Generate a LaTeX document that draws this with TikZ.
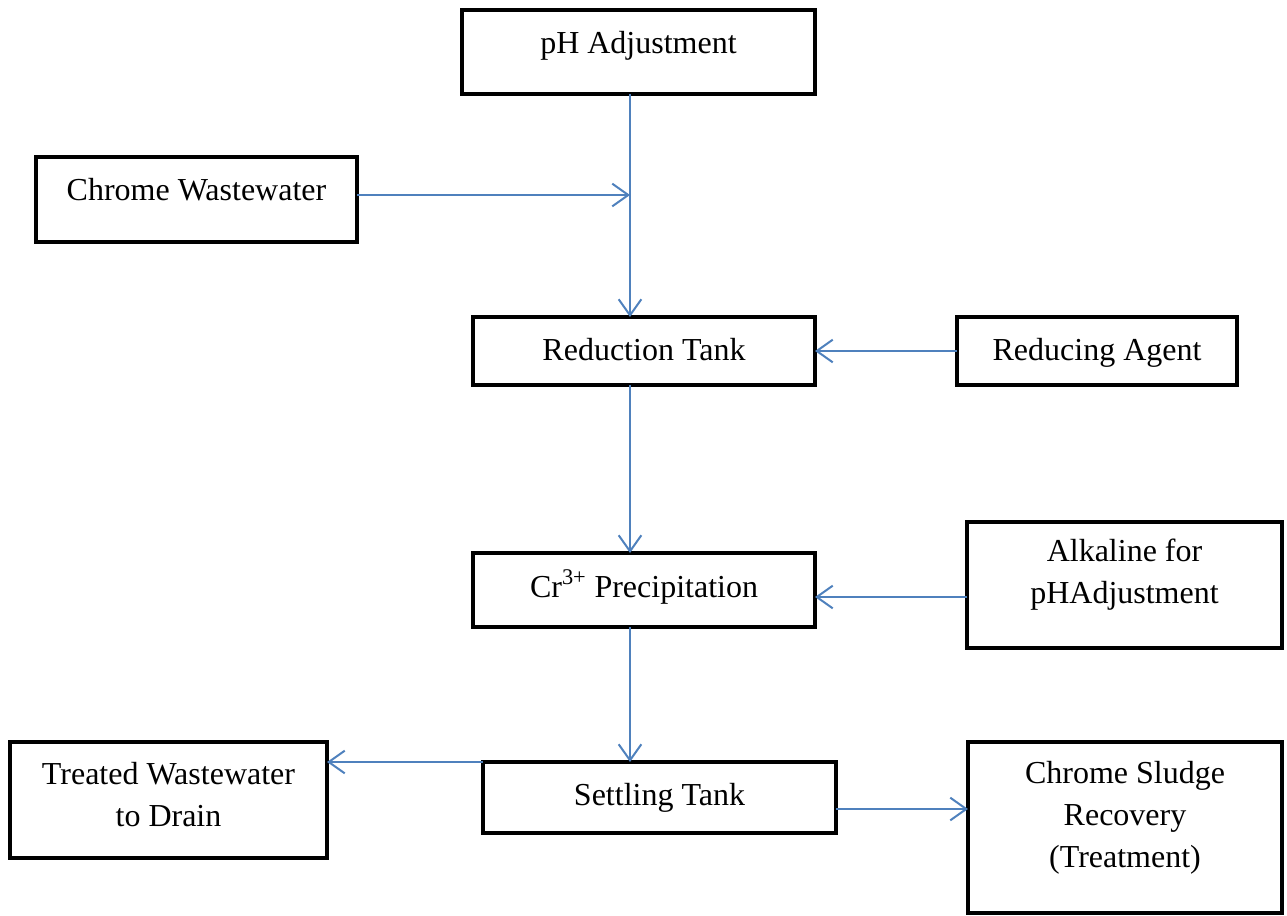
\documentclass[tikz,border=0pt]{standalone}
\usepackage{fontspec}
\setmainfont{Liberation Serif}
\usetikzlibrary{arrows.meta}
\definecolor{flowblue}{RGB}{79,129,189}
\begin{document}
\begin{tikzpicture}[x=0.75pt,y=-0.75pt,
  box/.style={draw=black,line width=3pt,rectangle,inner sep=0pt,outer sep=0pt},
  lbl/.style={font=\fontsize{24pt}{31.5pt}\selectfont,inner sep=0pt,align=center},
  pipe/.style={draw=flowblue,line width=1.5pt},
  flow/.style={pipe,-{Straight Barb[length=12pt,width=17pt,line width=1.5pt]}}]
\useasboundingbox (0,0) rectangle (1287,915);
% boxes: centre and size in px
\node[box,minimum width=353*0.75pt,minimum height=84*0.75pt] (ph) at (638.5,52) {};
\node[box,minimum width=321*0.75pt,minimum height=85*0.75pt] (cw) at (196.5,199.5) {};
\node[box,minimum width=342*0.75pt,minimum height=68*0.75pt] (red) at (644,351) {};
\node[box,minimum width=280*0.75pt,minimum height=68*0.75pt] (ra) at (1097,351) {};
\node[box,minimum width=342*0.75pt,minimum height=74*0.75pt] (cr) at (644,590) {};
\node[box,minimum width=315*0.75pt,minimum height=126*0.75pt] (alk) at (1124.5,585) {};
\node[box,minimum width=353*0.75pt,minimum height=71*0.75pt] (st) at (659.5,797.5) {};
\node[box,minimum width=317*0.75pt,minimum height=116*0.75pt] (tw) at (168.5,800) {};
\node[box,minimum width=314*0.75pt,minimum height=171*0.75pt] (cs) at (1125,827.5) {};
% labels
\node[lbl,anchor=base] (phT) at (638.5,53) {pH Adjustment};
\node[lbl,anchor=base] (cwT) at (196.5,200) {Chrome Wastewater};
\node[lbl,anchor=base] (redT) at (644,360) {Reduction Tank};
\node[lbl,anchor=base] (raT) at (1097,360) {Reducing Agent};
\node[lbl,anchor=base] (crT) at (644,597) {Cr\textsuperscript{3+} Precipitation};
\node[lbl,anchor=center] (alkT) at (1124.5,575) {Alkaline for\\pHAdjustment};
\node[lbl,anchor=base] (stT) at (659.5,805) {Settling Tank};
\node[lbl,anchor=center] (twT) at (168.5,795) {Treated Wastewater\\to Drain};
\node[lbl,anchor=center] (csT) at (1125,818) {Chrome Sludge\\Recovery\\(Treatment)};
% junction where the wastewater joins the vertical line
\coordinate (j) at (630,195);
% connectors
\draw[pipe] (ph.south -| j) -- (j);
\draw[flow] (j) -- (red.north -| j);
\draw[flow] (cw.east |- j) -- (j);
\draw[flow] (ra.west) -- (red.east);
\draw[flow] (red.south -| j) -- (cr.north -| j);
\draw[flow] (alk.west |- 0,597) -- (cr.east |- 0,597);
\draw[flow] (cr.south -| j) -- (st.north -| j);
\draw[flow] (st.north west) -- (tw.east |- st.north west);
\draw[flow] (st.east |- 0,809) -- (cs.west |- 0,809);
\end{tikzpicture}
\end{document}
